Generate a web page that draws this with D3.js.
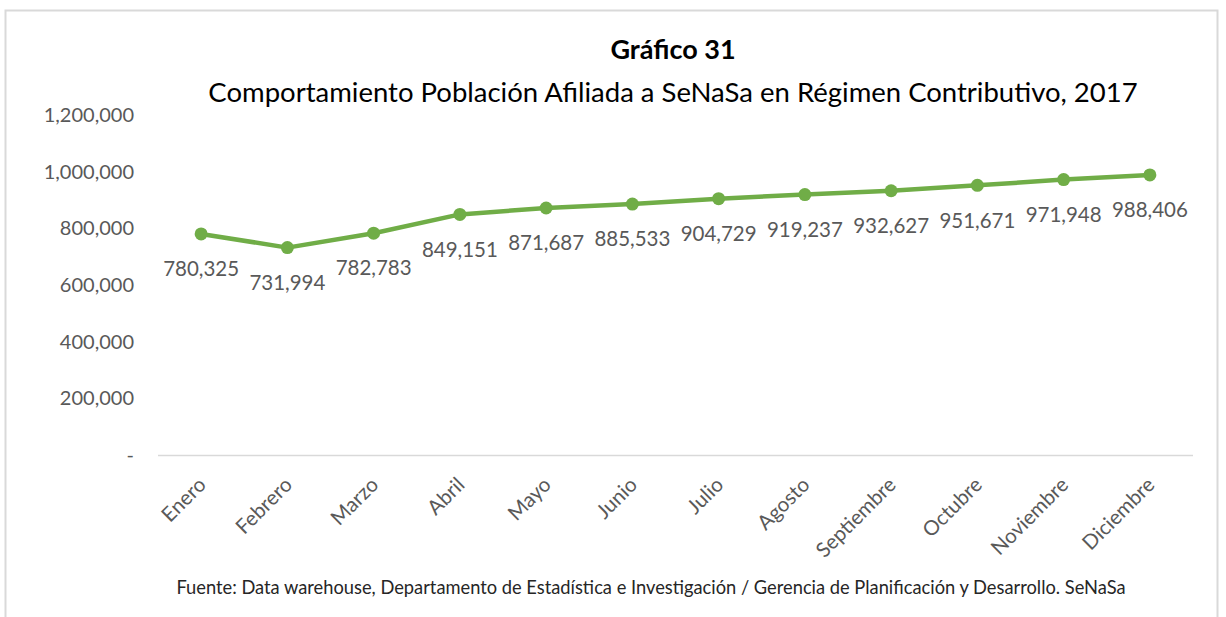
<!DOCTYPE html>
<html>
<head>
<meta charset="utf-8">
<script src="https://cdn.jsdelivr.net/npm/d3@7"></script>
<style>
  body { margin: 0; background: #fff; }
  svg { font-family: Lato, "Open Sans", sans-serif; }
</style>
</head>
<body>
<svg id="chart" width="1226" height="617"></svg>
<script>
const months = ["Enero", "Febrero", "Marzo", "Abril", "Mayo", "Junio", "Julio",
  "Agosto", "Septiembre", "Octubre", "Noviembre", "Diciembre"]
const values = [780325, 731994, 782783, 849151, 871687, 885533, 904729,
  919237, 932627, 951671, 971948, 988406]
const yTicks = [0, 200000, 400000, 600000, 800000, 1000000, 1200000]

const svg = d3.select("#chart")
const grey = "#595959"
const green = "#70AD47"

// outer frame
svg.append("rect")
  .attr("x", 5.5).attr("y", 10.5)
  .attr("width", 1212).attr("height", 620)
  .attr("fill", "none")
  .attr("stroke", "#d9d9d9")
  .attr("stroke-width", 2)

const x = d3.scaleBand().domain(months).range([158, 1193])
const y = d3.scaleLinear().domain([0, 1200000]).range([455, 115])
const fmt = d3.format(",")

// y axis labels
svg.append("g")
  .selectAll("text")
  .data(yTicks)
  .join("text")
  .attr("x", 134)
  .attr("y", d => y(d))
  .attr("dy", "0.35em")
  .attr("text-anchor", "end")
  .attr("fill", grey)
  .style("font-size", "20px")
  .text(d => d === 0 ? "-" : fmt(d))

// baseline
svg.append("line")
  .attr("x1", 158).attr("x2", 1193)
  .attr("y1", y(0) + 0.5).attr("y2", y(0) + 0.5)
  .attr("stroke", "#d9d9d9")
  .attr("stroke-width", 1.5)

// x labels
svg.append("g")
  .selectAll("text")
  .data(months)
  .join("text")
  .attr("transform", d => `translate(${x(d) + x.bandwidth() / 2 + 1},${y(0) + 26}) rotate(-45)`)
  .attr("text-anchor", "end")
  .attr("dy", "0.35em")
  .attr("fill", grey)
  .style("font-size", "20.5px")
  .text(d => d)

const cx = (d, i) => x(months[i]) + x.bandwidth() / 2

const line = d3.line()
  .x(cx)
  .y(d => y(d))

svg.append("path")
  .datum(values)
  .attr("d", line)
  .attr("fill", "none")
  .attr("stroke", green)
  .attr("stroke-width", 4.5)
  .attr("stroke-linejoin", "round")

svg.append("g")
  .selectAll("circle")
  .data(values)
  .join("circle")
  .attr("cx", cx)
  .attr("cy", d => y(d))
  .attr("r", 6.5)
  .attr("fill", green)

// data labels
svg.append("g")
  .selectAll("text")
  .data(values)
  .join("text")
  .attr("x", cx)
  .attr("y", d => y(d) + 35)
  .attr("dy", "0.35em")
  .attr("text-anchor", "middle")
  .attr("fill", grey)
  .style("font-size", "20.5px")
  .text(d => fmt(d))

// titles
svg.append("text")
  .attr("x", 673).attr("y", 50)
  .attr("dy", "0.35em")
  .attr("text-anchor", "middle")
  .attr("fill", "#000")
  .style("font-size", "27px")
  .style("font-weight", "bold")
  .text("Gráfico 31")

svg.append("text")
  .attr("x", 673).attr("y", 92)
  .attr("dy", "0.35em")
  .attr("text-anchor", "middle")
  .attr("fill", "#000")
  .style("font-size", "27.5px")
  .text("Comportamiento Población Afiliada a SeNaSa en Régimen Contributivo, 2017")

svg.append("text")
  .attr("x", 651).attr("y", 588)
  .attr("dy", "0.35em")
  .attr("text-anchor", "middle")
  .attr("fill", "#262626")
  .style("font-size", "18.3px")
  .text("Fuente: Data warehouse, Departamento de Estadística e Investigación / Gerencia de Planificación y Desarrollo. SeNaSa")
</script>
</body>
</html>
